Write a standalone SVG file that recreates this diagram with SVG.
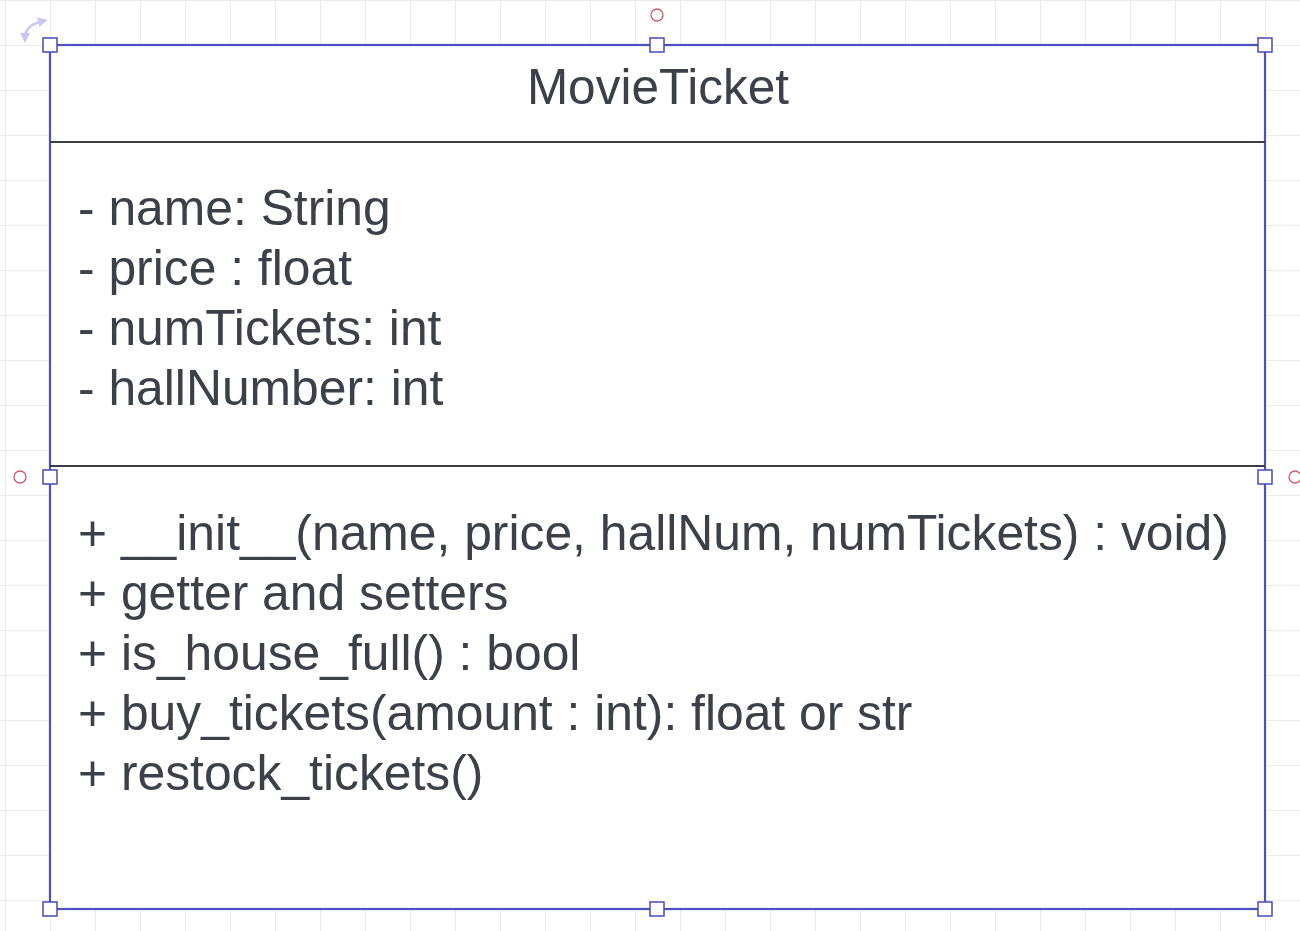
<svg xmlns="http://www.w3.org/2000/svg" width="1300" height="931" viewBox="0 0 1300 931">
  <defs>
    <pattern id="grid" x="5" y="0" width="45" height="45" patternUnits="userSpaceOnUse">
      <path d="M0.5,0 V45 M0,0.5 H45" fill="none" stroke="#ebebeb" stroke-width="1"/>
    </pattern>
    <marker id="rotHead" viewBox="0 0 10 10" refX="5" refY="5" markerWidth="4" markerHeight="4" orient="auto-start-reverse">
      <path d="M0,0 L10,5 L0,10 Z" fill="#c8c8f0"/>
    </marker>
    <style>
      .txt { font-family: "Liberation Sans", Arial, sans-serif; fill: #3c4049; }
      .title { font-size: 49.5px; text-anchor: middle; }
      .member { font-size: 49.8px; }
      .divider { stroke: #3a3d45; stroke-width: 2; }
      .frame { fill: #ffffff; stroke: #4e4ec6; stroke-width: 2.2; }
      .handle { fill: #ffffff; stroke: #4a4ab8; stroke-width: 1.5; }
      .anchor { fill: none; stroke: #d45a6a; stroke-width: 1.3; }
    </style>
  </defs>

  <rect x="0" y="0" width="1300" height="931" fill="#ffffff"/>
  <rect x="0" y="0" width="1300" height="931" fill="url(#grid)"/>

  <g id="connectors"></g>

  <g id="MovieTicket">
    <rect class="frame" x="50" y="45" width="1215" height="864"/>
    <line class="divider" x1="50" y1="142" x2="1265" y2="142"/>
    <line class="divider" x1="50" y1="466" x2="1265" y2="466"/>
    <text class="txt title" x="658" y="104">MovieTicket</text>
    <text class="txt member" x="78" y="225">- name: String</text>
    <text class="txt member" x="78" y="285">- price : float</text>
    <text class="txt member" x="78" y="345">- numTickets: int</text>
    <text class="txt member" x="78" y="405">- hallNumber: int</text>
    <text class="txt member" x="78" y="550">+ __init__(name, price, hallNum, numTickets) : void)</text>
    <text class="txt member" x="78" y="610">+ getter and setters</text>
    <text class="txt member" x="78" y="670">+ is_house_full() : bool</text>
    <text class="txt member" x="78" y="730">+ buy_tickets(amount : int): float or str</text>
    <text class="txt member" x="78" y="790">+ restock_tickets()</text>
  </g>

  <g id="selection">
    <path d="M25,38 Q25,25 43,21" fill="none" stroke="#c8c8f0" stroke-width="2.5" marker-start="url(#rotHead)" marker-end="url(#rotHead)"/>
    <rect class="handle" x="43" y="38" width="14" height="14"/>
    <rect class="handle" x="650" y="38" width="14" height="14"/>
    <rect class="handle" x="1258" y="38" width="14" height="14"/>
    <rect class="handle" x="43" y="470" width="14" height="14"/>
    <rect class="handle" x="1258" y="470" width="14" height="14"/>
    <rect class="handle" x="43" y="902" width="14" height="14"/>
    <rect class="handle" x="650" y="902" width="14" height="14"/>
    <rect class="handle" x="1258" y="902" width="14" height="14"/>
    <circle class="anchor" cx="657" cy="15" r="6"/>
    <circle class="anchor" cx="20" cy="477" r="6"/>
    <circle class="anchor" cx="1295" cy="477" r="6"/>
  </g>
</svg>
